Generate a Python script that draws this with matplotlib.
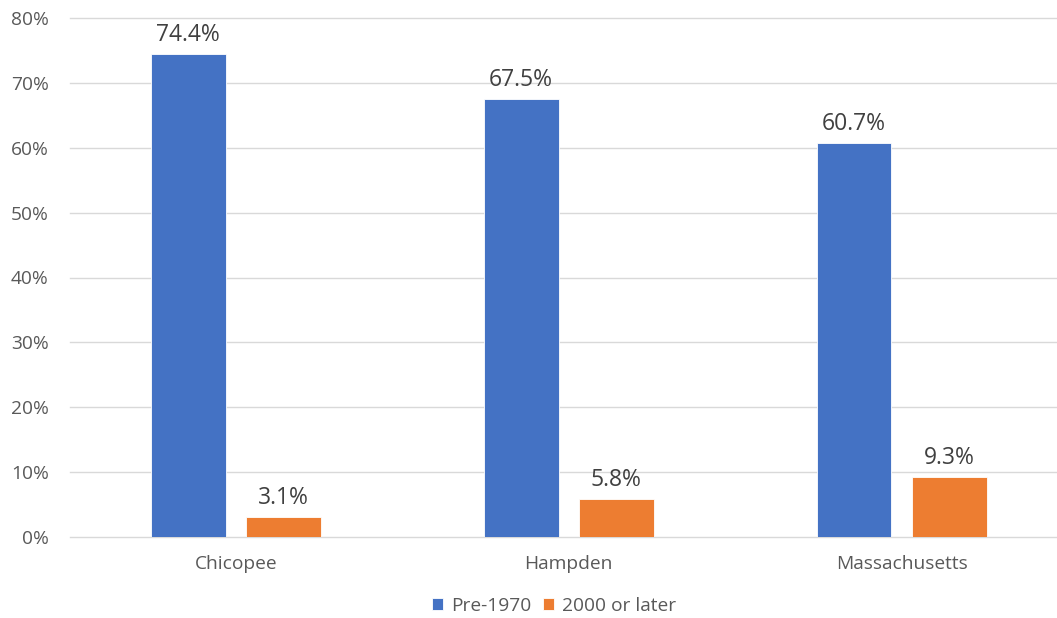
import matplotlib
matplotlib.use("Agg")
import matplotlib.pyplot as plt
import numpy as np

categories = ["Chicopee", "Hampden", "Massachusetts"]
series_names = ["Pre-1970", "2000 or later"]
pre_1970 = [74.4, 67.5, 60.7]
later_2000 = [3.1, 5.8, 9.3]
y_ticks = [0, 10, 20, 30, 40, 50, 60, 70, 80]

colors = ["#4472C4", "#ED7D31"]
text_color = "#595959"
plt.rcParams["font.family"] = ["Open Sans", "DejaVu Sans"]

W, H = 1057, 618
fig = plt.figure(figsize=(W / 100, H / 100), dpi=100)
left, right, bottom, top = 69.5, 1068, 537, 18
ax = fig.add_axes([left / W, (H - bottom) / H, (right - left) / W, (bottom - top) / H])

x = np.arange(len(categories))
width = 0.225
offset = 0.143
for vals, name, color, sign in [(pre_1970, series_names[0], colors[0], -1),
                                 (later_2000, series_names[1], colors[1], 1)]:
    bars = ax.bar(x + sign * offset, vals, width, color=color, label=name,
                  edgecolor="white", linewidth=0.6, zorder=3)
    for b, v in zip(bars, vals):
        ax.annotate(f"{v:.1f}%", (b.get_x() + b.get_width() / 2, v),
                    xytext=(0, 5), textcoords="offset points",
                    ha="center", va="bottom", fontsize=16.5, color="#404040")

ax.set_xlim(-0.5, 2.5)
ax.set_ylim(0, 80)
ax.set_yticks(y_ticks)
ax.set_yticklabels([f"{t}%" for t in y_ticks])
ax.set_xticks(x)
ax.set_xticklabels(categories)
ax.tick_params(axis="both", length=0, labelsize=13.8, colors=text_color)
ax.tick_params(axis="y", pad=15)
ax.tick_params(axis="x", pad=13)
ax.grid(axis="y", color="#d9d9d9", linewidth=1, zorder=0)
for gl in ax.get_ygridlines():
    gl.set_clip_on(False)
for s in ax.spines.values():
    s.set_visible(False)

handles, labels = ax.get_legend_handles_labels()
fig.legend(handles, labels, loc="center", bbox_to_anchor=(554 / W, 1 - 606 / H),
           ncol=2, frameon=False, fontsize=13.8, labelcolor=text_color,
           handlelength=0.6, handleheight=0.6, handletextpad=0.4, columnspacing=0.6)

fig.savefig("out.png", dpi=100)
